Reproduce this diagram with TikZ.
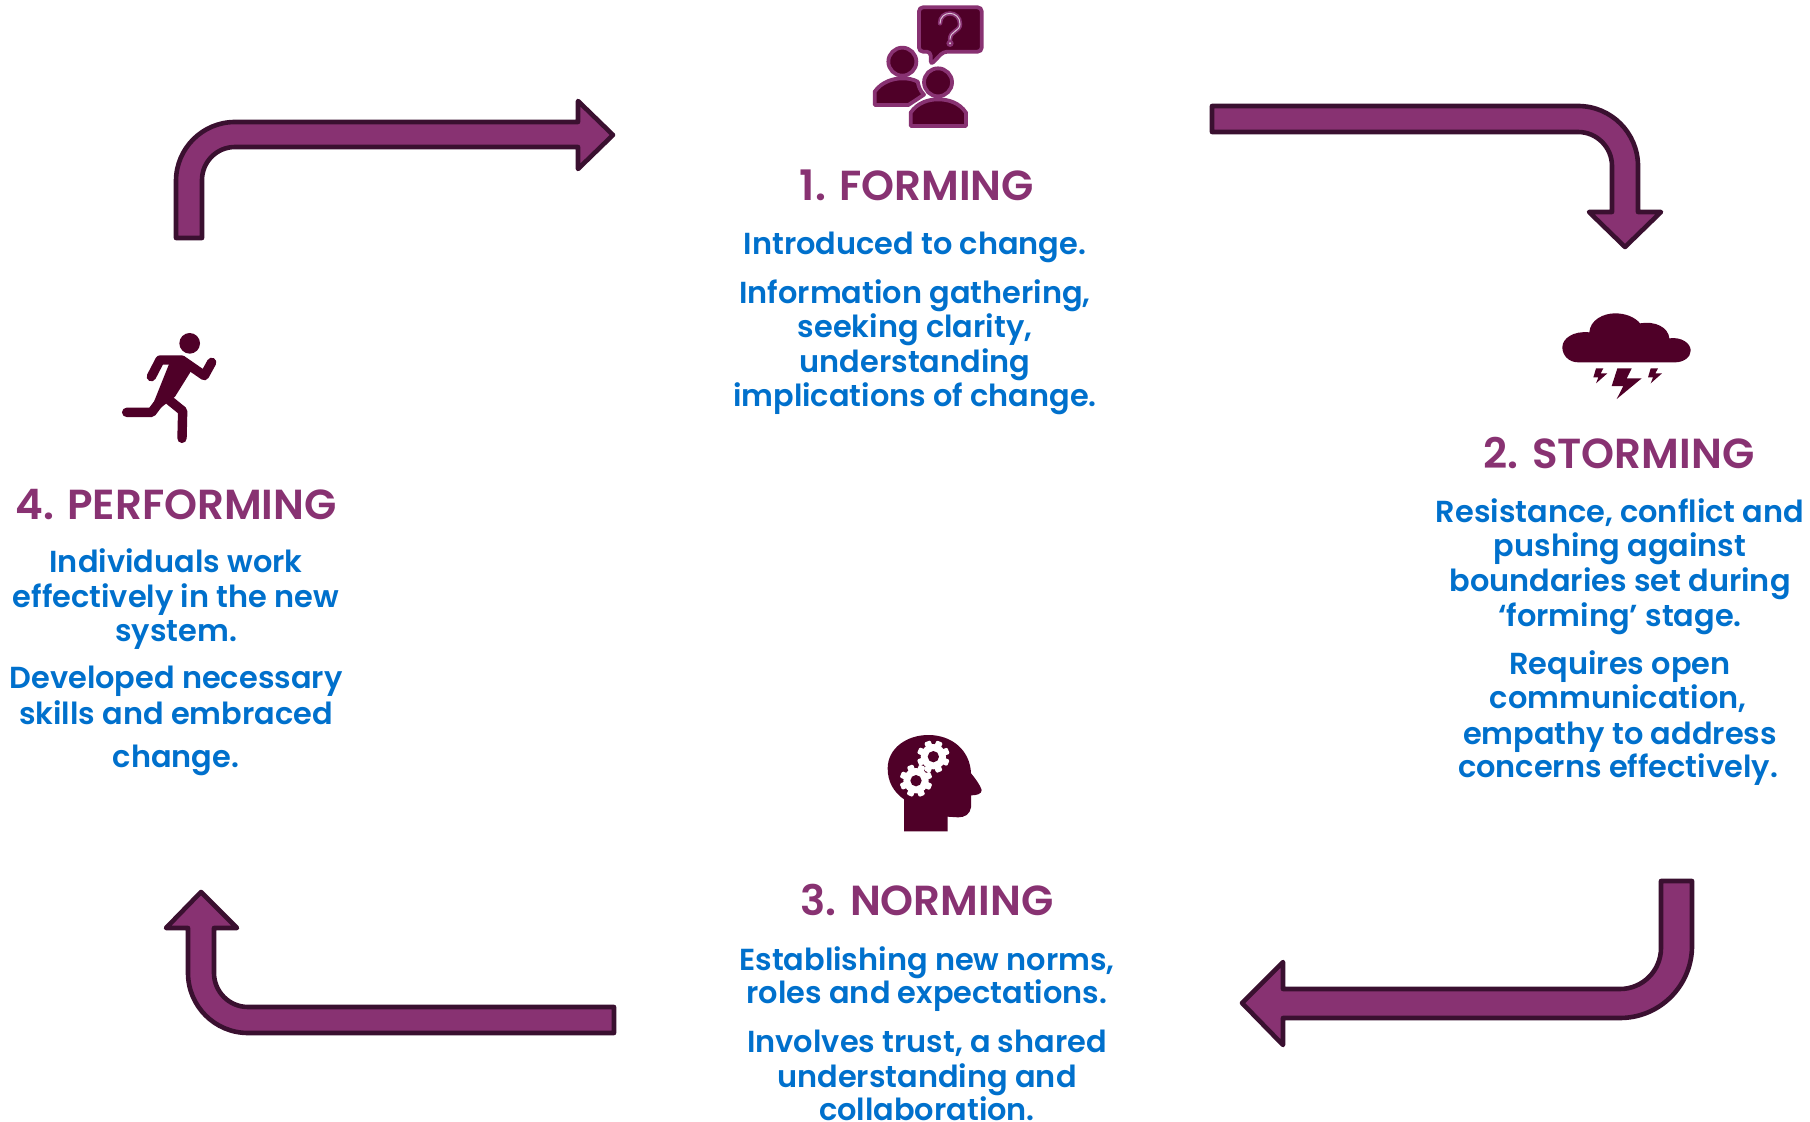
\documentclass[tikz,border=0pt]{standalone}
\usepackage{fontspec}
\setmainfont{Poppins}[BoldFont={Poppins SemiBold}]
\definecolor{plum}{HTML}{883272}
\definecolor{edge}{HTML}{3A1030}
\definecolor{dark}{HTML}{4F0028}
\definecolor{blue}{HTML}{0070CC}
\tikzset{
 flow/.style={draw=edge,fill=plum,line width=2.3pt,line join=round},
 icon/.style={fill=dark},
 person/.style={fill=dark,draw=plum,line width=1.9pt,line join=round},
 limb/.style={draw=dark,line width=4.7pt,line cap=round,line join=round},
 head/.style={anchor=base,text=plum,inner sep=0pt,font=\fontsize{21}{24}\selectfont\bfseries},
 body/.style={anchor=base,text=blue,inner sep=0pt,font=\fontsize{15.2}{18}\selectfont\bfseries}
}
\begin{document}
\begin{tikzpicture}[x=0.5pt,y=-0.5pt]
\useasboundingbox (0,0) rectangle (1810,1122);
\draw[flow] (176,238) -- (176,181) arc[start angle=180,end angle=90,radius=29.5pt] -- (578,122) -- (578,101) -- (613,135) -- (578,169) -- (578,147) -- (235,147) arc[start angle=90,end angle=180,radius=16.5pt] -- (202,238) -- cycle;
\draw[flow] (1212,106) -- (1578,106) arc[start angle=90,end angle=0,radius=30pt] -- (1638,212) -- (1661,212) -- (1625,247) -- (1589,212) -- (1612,212) -- (1612,166) arc[start angle=0,end angle=90,radius=17pt] -- (1212,132) -- cycle;
\draw[flow] (1692,881) -- (1692,946) arc[start angle=0,end angle=-90,radius=36pt] -- (1283,1018) -- (1283,1045) -- (1242,1003) -- (1283,962) -- (1283,989) -- (1620,989) arc[start angle=-90,end angle=0,radius=20.5pt] -- (1661,881) -- cycle;
\draw[flow] (614,1007) -- (248,1007) arc[start angle=-90,end angle=-180,radius=17pt] -- (214,928) -- (237,928) -- (201,892) -- (166,928) -- (188,928) -- (188,973) arc[start angle=180,end angle=270,radius=30pt] -- (614,1033) -- cycle;

% forming icon
\begin{scope}[shift={(840,0)},x=0.1667pt,y=-0.1667pt]
\draw[person,rounded corners=2pt] (237,22) -- (425,22) -- (425,155) -- (310,155) -- (272,195) -- (272,155) -- (237,155) -- cycle;
\draw[plum,line width=2.2pt,line cap=round] (300,70) .. controls (300,30) and (360,30) .. (360,72) .. controls (360,95) and (330,92) .. (330,118);
\draw[white!70!plum,line width=.5pt,line cap=round] (300,70) .. controls (300,30) and (360,30) .. (360,72) .. controls (360,95) and (330,92) .. (330,118);
\draw[fill=white!80!plum,draw=plum,line width=1.2pt] (330,130) circle (7);
\draw[person] (187,185) circle (42);
\draw[person] (104,315) -- (104,275) .. controls (125,245) and (160,235) .. (187,235) .. controls (205,235) and (220,238) .. (233,245) .. controls (236,260) and (240,272) .. (252,284) -- (205,315) -- cycle;
\draw[person] (294,247) circle (42);
\draw[person] (212,378) -- (212,338) .. controls (232,308) and (265,298) .. (294,298) .. controls (325,298) and (358,308) .. (378,338) -- (378,378) -- cycle;
\end{scope}

% storming icon
\begin{scope}[shift={(1540,300)},x=0.1667pt,y=-0.1667pt]
\fill[icon] (115,187) .. controls (85,187) and (67,165) .. (67,142) .. controls (67,115) and (100,92) .. (148,97) .. controls (150,60) and (190,40) .. (225,40) .. controls (258,40) and (285,52) .. (300,70) .. controls (345,62) and (385,82) .. (388,115) .. controls (425,110) and (452,130) .. (452,152) .. controls (452,172) and (430,187) .. (405,187) -- cycle;
\fill[icon] (232,205) -- (275,205) -- (260,235) -- (305,235) -- (230,297) -- (250,258) -- (215,258) -- cycle;
\fill[icon] (168,205) -- (190,205) -- (182,220) -- (202,220) -- (168,250) -- (175,232) -- (160,232) -- cycle;
\fill[icon] (332,205) -- (354,205) -- (346,220) -- (366,220) -- (332,250) -- (339,232) -- (324,232) -- cycle;
\end{scope}

% norming icon
\begin{scope}[shift={(870,720)},x=0.1667pt,y=-0.1667pt]
\fill[icon] (102,334) -- (102,238) .. controls (70,215) and (53,185) .. (53,145) .. controls (53,85) and (110,45) .. (175,45) .. controls (245,45) and (300,90) .. (303,160) .. controls (318,178) and (330,195) .. (335,210) .. controls (335,222) and (320,226) .. (303,226) -- (303,262) .. controls (300,282) and (285,292) .. (265,292) -- (233,290) -- (233,334) -- cycle;
\foreach \cx/\cy in {190/110, 138/182}{
 \fill[white] (\cx,\cy) circle (38);
 \foreach \a in {0,45,...,315}{\fill[white,rounded corners=.6pt,rotate around={\a+22:(\cx,\cy)}] (\cx-10,\cy-49) rectangle (\cx+10,\cy-30);}
 \fill[icon] (\cx,\cy) circle (17);
}
\end{scope}

% performing icon
\begin{scope}[shift={(110,325)},x=0.1667pt,y=-0.1667pt]
\fill[icon] (239,55) circle (31);
\draw[limb] (124,155) -- (150,105) -- (215,105) -- (283,152) -- (305,112);
\draw[limb] (50,262) -- (125,262) -- (172,200);
\draw[limb] (165,215) -- (218,258) -- (216,340);
\fill[icon] (180,110) -- (225,105) -- (245,135) -- (195,215) -- (150,250) -- (130,235) -- cycle;
\end{scope}

\node[head] (h1) at (917,201) {1. FORMING};
\node[body] (a1) at (915,255) {Introduced to change.};
\node[body] (a2) at (915,304) {Information gathering,};
\node[body] (a3) at (915,338) {seeking clarity,};
\node[body] (a4) at (915,373) {understanding};
\node[body] (a5) at (915,407) {implications of change.};

\node[head] (h2) at (1619,469) {2. STORMING};
\node[body] (b1) at (1620,523) {Resistance, conflict and};
\node[body] (b2) at (1620,557) {pushing against};
\node[body] (b3) at (1620,592) {boundaries set during};
\node[body] (b4) at (1620,627) {‘forming’ stage.};
\node[body] (b5) at (1620,675) {Requires open};
\node[body] (b6) at (1618,709) {communication,};
\node[body] (b7) at (1620,744) {empathy to address};
\node[body] (b8) at (1618,777) {concerns effectively.};

\node[head] (h3) at (927,915) {3. NORMING};
\node[body] (c1) at (927,970) {Establishing new norms,};
\node[body] (c2) at (927,1003) {roles and expectations.};
\node[body] (c3) at (927,1052) {Involves trust, a shared};
\node[body] (c4) at (927,1087) {understanding and};
\node[body] (c5) at (927,1120) {collaboration.};

\node[head] (h4) at (176,520) {4. PERFORMING};
\node[body] (d1) at (176,573) {Individuals work};
\node[body] (d2) at (176,608) {effectively in the new};
\node[body] (d3) at (176,641) {system.};
\node[body] (d4) at (176,689) {Developed necessary};
\node[body] (d5) at (176,724) {skills and embraced};
\node[body] (d6) at (176,767) {change.};
\end{tikzpicture}
\end{document}
